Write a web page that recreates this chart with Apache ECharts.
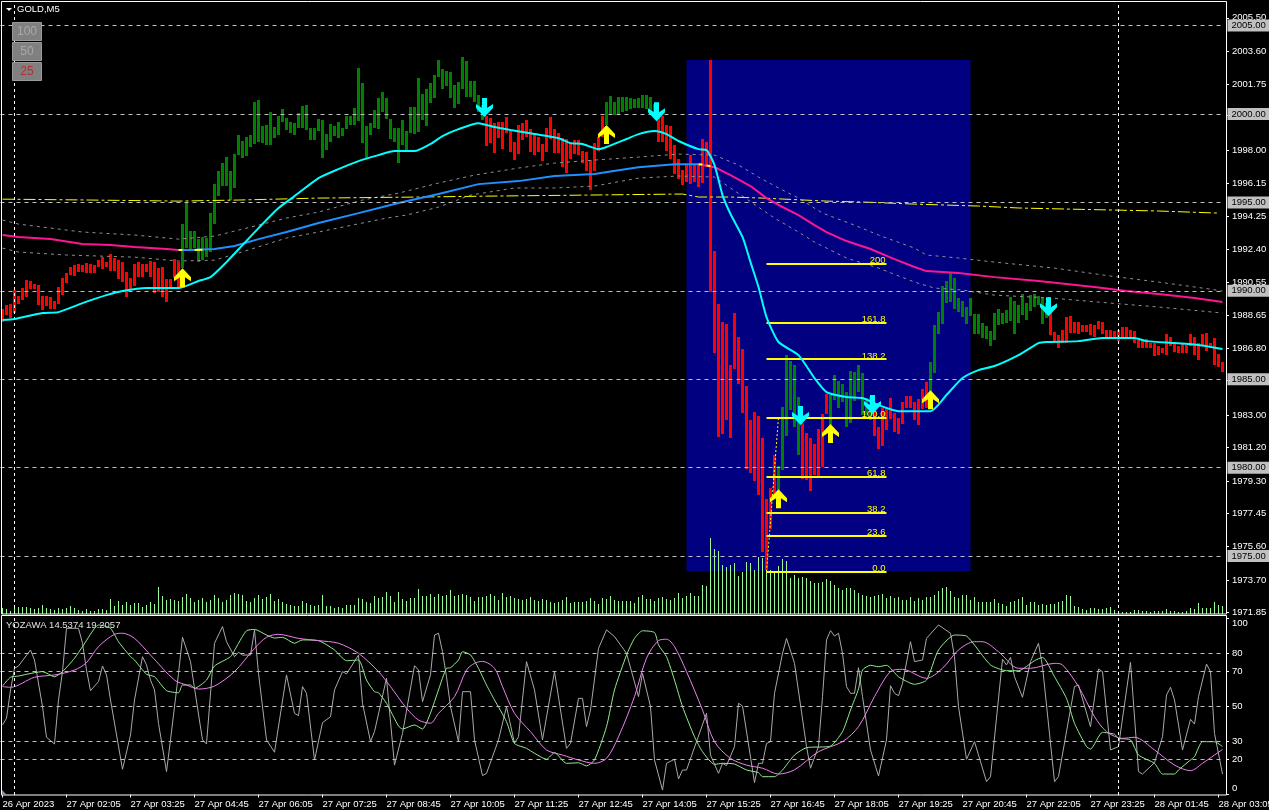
<!DOCTYPE html>
<html><head><meta charset="utf-8">
<style>html,body{margin:0;padding:0;background:#000}#c{width:1269px;height:810px}</style>
<script src="https://cdn.jsdelivr.net/npm/echarts@6/dist/echarts.min.js"></script>
</head><body><div id="c"></div>
<script>
const tickLabels=['26 Apr 2023','27 Apr 02:05','27 Apr 03:25','27 Apr 04:45','27 Apr 06:05','27 Apr 07:25','27 Apr 08:45','27 Apr 10:05','27 Apr 11:25','27 Apr 12:45','27 Apr 14:05','27 Apr 15:25','27 Apr 16:45','27 Apr 18:05','27 Apr 19:25','27 Apr 20:45','27 Apr 22:05','27 Apr 23:25','28 Apr 01:45','28 Apr 03:05'];
const priceTicks=[2005.5,2003.6,2001.75,2000,1998,1996.15,1994.25,1992.4,1990.55,1988.65,1986.8,1985,1983,1981.2,1979.3,1977.45,1975.6,1973.7,1971.85];
const priceLevels=[2005,2000,1995,1990,1985,1980,1975];
const barHigh=[
1989.02,1989.25,1989.31,1990.10,1989.76,1990.21,1990.66,1990.61,1990.44,1990.38,
1989.76,1989.76,1989.70,1989.48,1990.27,1990.78,1991.06,1991.40,1991.51,1991.57,
1991.51,1991.62,1991.57,1991.51,1991.79,1991.96,1991.68,1992.13,1991.91,1991.79,
1991.68,1991.12,1990.78,1991.57,1991.68,1991.57,1991.57,1991.74,1991.68,1991.34,
1991.40,1990.72,1990.72,1991.85,1991.68,1993.83,1995.07,1993.43,1993.43,1992.98,
1993.10,1993.04,1994.45,1996.09,1996.83,1997.28,1997.62,1996.83,1997.79,1998.86,
1998.52,1998.75,1998.86,2000.73,2000.84,1999.37,1999.43,2000.17,1999.32,1999.94,
2000.33,1999.83,1999.60,1999.54,2000.11,2000.50,2000.56,1999.26,1999.26,1999.77,
1999.71,1998.92,1999.49,1999.37,1999.60,1999.26,1999.94,1999.94,2000.39,2002.65,
2001.81,1999.37,1999.54,2000.28,2000.96,2001.30,2000.96,1999.77,1999.26,1999.26,
1999.71,1999.09,2000.45,2000.45,2002.09,2001.18,2001.47,2001.81,2002.26,2003.11,
2002.60,2002.48,2002.43,2001.69,2001.86,2003.28,2003.05,2001.92,2001.92,2001.13,
2000.56,1999.94,1999.83,1999.54,1999.60,1999.60,1999.88,1999.09,1998.47,1999.43,
1999.54,1999.71,1999.20,1998.98,1998.75,1998.36,1999.26,1999.88,1999.20,1998.98,
1998.69,1998.64,1998.47,1998.58,1998.58,1997.96,1997.90,1997.45,1998.41,1998.75,
1999.94,2000.73,2001.07,2000.73,2001.01,2001.01,2001.01,2000.96,2000.90,2000.96,
2001.13,2001.13,2001.01,2000.62,2000.00,1999.94,1999.43,1999.37,1998.30,1997.51,
1996.88,1997.17,1997.73,1997.17,1997.17,1998.64,1998.47,2003.11,1992.30,1989.31,
1988.29,1988.17,1985.86,1988.80,1987.44,1986.76,1984.67,1982.74,1983.20,1982.97,
1981.73,1978.28,1978.90,1980.77,1980.14,1983.48,1986.42,1986.08,1985.86,1984.05,
1982.58,1982.01,1981.73,1981.39,1982.24,1983.08,1984.22,1984.16,1985.29,1984.95,
1984.78,1984.33,1985.52,1985.46,1985.86,1985.40,1983.99,1984.05,1983.42,1982.35,
1983.42,1983.42,1983.99,1983.14,1982.86,1983.76,1984.10,1984.10,1983.76,1983.93,
1984.50,1984.89,1986.02,1988.12,1988.85,1990.32,1990.61,1991.06,1990.78,1989.65,
1989.48,1989.14,1989.65,1988.74,1988.74,1988.23,1988.06,1987.78,1988.80,1989.02,
1988.80,1988.97,1989.70,1989.48,1989.25,1989.87,1989.36,1989.81,1989.87,1989.76,
1989.65,1989.36,1988.80,1987.72,1987.55,1987.84,1988.57,1988.63,1988.29,1988.29,
1988.12,1988.12,1988.17,1988.12,1988.34,1988.29,1987.84,1987.84,1987.78,1987.84,
1988.00,1988.00,1987.84,1987.78,1987.27,1987.27,1987.33,1987.10,1987.10,1986.93,
1986.82,1987.61,1987.44,1987.10,1986.93,1987.10,1986.99,1987.61,1987.44,1987.10,
1987.61,1987.67,1987.10,1987.38,1986.48,1986.02];
const barLow=[
1988.29,1988.68,1988.51,1988.80,1989.31,1989.53,1989.70,1990.15,1990.15,1989.25,
1988.97,1989.19,1989.02,1989.02,1989.31,1989.81,1990.49,1990.95,1990.89,1991.12,
1991.12,1991.06,1991.06,1991.06,1991.40,1991.29,1991.40,1991.17,1991.17,1990.72,
1990.55,1989.70,1990.10,1990.32,1990.83,1990.83,1991.12,1990.83,1989.93,1989.98,
1989.70,1989.42,1990.15,1990.78,1990.21,1991.34,1992.47,1992.36,1992.47,1991.68,
1991.79,1991.96,1992.25,1993.83,1995.41,1995.98,1995.98,1995.19,1995.87,1997.73,
1997.56,1997.68,1998.19,1998.36,1998.47,1998.41,1998.30,1998.30,1998.69,1998.86,
1999.60,1999.15,1998.98,1998.86,1999.26,1999.26,1999.15,1998.58,1998.58,1999.09,
1997.56,1998.02,1998.47,1998.81,1998.69,1998.81,1999.20,1999.43,1999.43,1999.66,
1998.41,1997.56,1998.86,1999.26,1999.20,2000.17,1999.77,1998.64,1998.47,1997.28,
1998.30,1998.02,1998.98,1998.92,1999.03,1999.71,1999.37,2000.67,2000.96,2002.14,
2001.47,2001.64,2000.96,2000.39,2000.62,2001.47,2001.01,2001.01,2000.73,2000.17,
1999.71,1998.24,1998.41,1997.85,1998.69,1998.07,1998.98,1997.90,1997.45,1997.79,
1998.58,1998.75,1997.90,1997.73,1997.90,1997.39,1997.90,1998.64,1997.85,1997.85,
1997.05,1996.72,1997.51,1997.79,1997.73,1997.28,1996.83,1995.75,1996.83,1997.96,
1998.75,1999.43,2000.00,2000.00,2000.00,2000.17,2000.22,2000.33,2000.39,2000.39,
2000.39,2000.33,2000.00,1999.88,1998.47,1998.47,1997.96,1997.51,1996.66,1996.38,
1996.04,1996.21,1996.09,1996.21,1995.92,1996.15,1997.05,1989.98,1986.53,1981.78,
1981.95,1982.74,1981.73,1985.63,1984.78,1983.14,1979.97,1979.75,1979.29,1978.50,
1975.28,1974.26,1976.58,1978.50,1978.79,1979.92,1981.84,1983.31,1982.35,1980.77,
1979.41,1979.35,1978.73,1979.63,1979.58,1980.09,1983.08,1982.46,1983.88,1983.42,
1983.76,1982.35,1982.58,1983.82,1984.33,1983.03,1983.03,1982.74,1981.84,1981.10,
1981.27,1982.18,1982.80,1982.07,1981.95,1982.52,1983.42,1983.42,1982.74,1982.46,
1983.37,1983.42,1983.71,1985.40,1987.61,1988.17,1989.36,1989.42,1989.02,1988.85,
1988.57,1988.17,1988.63,1987.61,1987.61,1987.38,1987.33,1986.93,1987.27,1988.12,
1988.17,1988.23,1988.34,1987.61,1988.23,1988.68,1988.40,1988.91,1989.14,1989.25,
1988.17,1988.51,1987.55,1987.16,1986.82,1987.10,1987.10,1987.67,1987.67,1987.61,
1987.72,1987.72,1987.55,1987.44,1987.89,1987.61,1987.44,1987.44,1987.38,1987.21,
1987.44,1987.44,1987.44,1987.10,1986.82,1986.82,1986.82,1986.82,1986.36,1986.42,
1986.53,1986.42,1986.93,1986.59,1986.53,1986.53,1986.53,1986.93,1986.42,1986.14,
1986.93,1986.65,1986.82,1985.86,1985.74,1985.46];
const barTrend=[[0,44,0],[45,120,1],[121,150,0],[151,163,1],[164,193,0],[194,199,1],[200,206,0],[207,217,1],[218,231,0],[232,261,1],[262,305,0]];
const tickVolume=[
6,5,3,8,7,7,7,6,5,6,9,6,5,4,6,5,6,8,6,4,3,5,3,3,5,5,4,15,8,13,
9,12,9,11,11,7,9,12,10,27,18,14,15,14,13,17,20,16,12,14,16,12,14,19,16,12,14,19,21,20,
19,13,12,16,19,15,17,20,13,15,12,10,9,8,8,13,11,9,8,9,19,8,8,6,7,6,9,9,9,16,
15,12,11,18,16,17,22,18,12,22,15,13,16,16,25,18,18,20,17,20,18,19,24,18,19,20,19,17,13,17,
17,18,20,18,14,21,17,18,16,15,14,15,17,14,13,15,14,12,11,12,14,17,11,12,12,12,13,16,13,10,
16,15,18,14,13,13,13,13,11,17,19,15,15,13,16,17,15,14,16,21,16,18,21,18,18,29,28,76,65,63,
49,47,49,51,38,42,52,51,44,57,56,54,44,43,48,55,53,36,39,36,37,36,33,31,31,32,35,33,29,26,
24,26,26,24,21,19,18,17,18,19,20,16,18,16,17,14,14,17,13,16,14,17,17,19,23,26,27,23,17,16,
19,19,14,17,12,12,12,12,15,11,10,8,12,13,15,17,9,12,12,9,10,9,10,10,12,13,19,18,8,7,
5,4,6,6,5,5,6,7,4,3,2,2,2,4,4,3,3,2,3,3,3,5,3,3,2,2,3,6,5,11,6,6,6,12,9,8];
const cyanMA=[[0,1988.40],[3,1988.46],[10,1988.80],[14,1988.85],[20,1989.36],[26,1989.81],[30,1990.04],[36,1990.21],[41,1990.21],[44,1990.21],[49,1990.61],[52,1990.83],[56,1991.68],[60,1992.64],[64,1993.60],[69,1994.74],[73,1995.41],[79,1996.43],[84,1996.94],[89,1997.39],[94,1997.73],[98,1997.96],[103,1997.96],[107,1998.36],[110,1998.81],[114,1999.20],[119,1999.54],[123,1999.32],[127,1999.15],[133,1998.92],[139,1998.69],[142,1998.41],[145,1998.36],[149,1998.07],[151,1998.19],[156,1998.64],[159,1998.92],[163,1999.09],[166,1998.92],[169,1998.53],[174,1998.07],[176,1998.02],[178,1997.17],[180,1995.47],[182,1994.40],[185,1993.10],[187,1991.68],[189,1990.27],[191,1988.57],[194,1987.16],[199,1986.42],[203,1985.12],[206,1984.33],[211,1984.05],[215,1983.99],[219,1983.59],[224,1983.25],[232,1983.25],[236,1984.16],[240,1985.12],[244,1985.57],[248,1985.80],[254,1986.42],[259,1987.10],[261,1987.16],[269,1987.21],[275,1987.38],[283,1987.38],[286,1987.21],[293,1987.10],[299,1986.99],[305,1986.76]];
const maPinkLeft=[[0,1993.21],[4,1993.10],[12,1992.98],[20,1992.70],[27,1992.64],[33,1992.53],[41,1992.42],[44,1992.36]];
const maBlue=[[44,1992.36],[47,1992.36],[53,1992.42],[58,1992.59],[64,1992.98],[71,1993.38],[79,1993.89],[89,1994.45],[99,1995.02],[109,1995.53],[119,1996.09],[129,1996.26],[138,1996.55],[148,1996.66],[154,1996.88],[159,1997.05],[168,1997.22],[174,1997.22]];
const maPinkRight=[[174,1997.22],[178,1997.05],[182,1996.60],[187,1995.98],[191,1995.30],[194,1994.91],[199,1994.34],[203,1993.77],[206,1993.38],[211,1992.87],[217,1992.42],[223,1991.85],[228,1991.40],[231,1991.17],[239,1991.06],[248,1990.83],[259,1990.61],[273,1990.27],[281,1990.04],[289,1989.87],[298,1989.65],[305,1989.42]];
const envUpper=[[0,1994.06],[4,1993.83],[10,1993.66],[20,1993.38],[33,1993.21],[44,1992.98],[53,1993.15],[62,1993.66],[71,1994.17],[79,1994.51],[90,1995.19],[99,1995.58],[109,1996.15],[118,1996.60],[129,1997.00],[138,1997.28],[148,1997.45],[159,1997.62],[169,1997.79],[178,1997.73],[184,1997.17],[189,1996.49],[194,1995.87],[199,1995.30],[205,1994.45],[213,1993.77],[219,1993.21],[228,1992.47],[231,1992.08],[239,1991.91],[248,1991.68],[263,1991.34],[277,1990.89],[289,1990.55],[302,1990.15],[305,1990.04]];
const envLower=[[0,1992.47],[4,1992.25],[16,1992.08],[33,1991.96],[44,1991.74],[53,1991.79],[59,1992.19],[71,1993.04],[79,1993.38],[96,1994.17],[101,1994.34],[109,1994.79],[117,1995.47],[128,1995.87],[138,1995.87],[148,1995.98],[159,1996.43],[169,1996.55],[178,1996.49],[182,1995.87],[189,1994.79],[193,1994.17],[199,1993.38],[203,1992.81],[211,1991.91],[219,1991.34],[228,1990.55],[233,1990.21],[240,1990.10],[248,1989.81],[262,1989.65],[277,1989.36],[289,1989.14],[305,1988.80]];
const trendYellow=[[0,1995.24],[22,1995.19],[44,1995.13],[59,1995.19],[79,1995.30],[104,1995.36],[121,1995.41],[146,1995.47],[170,1995.53],[174,1995.36],[182,1995.36],[190,1995.30],[206,1995.13],[216,1995.07],[228,1994.96],[244,1994.85],[254,1994.74],[266,1994.68],[289,1994.57],[304,1994.45]];
const fibNames=['0.0','23.6','38.2','61.8','100.0','138.2','161.8','200'];
const fibPrices=[1974.17,1976.22,1977.50,1979.55,1982.88,1986.20,1988.26,1991.59];
const fibPath=[[191,1974.17],[192,1977.00],[193,1980.00],[194,1982.88]];
const upArrows=[[45,1990.80],[151,1998.89],[194,1978.30],[207,1981.98],[232,1983.90]];
const downArrows=[[121,2000.42],[164,2000.19],[200,1983.00],[218,1983.62],[262,1989.16]];
const fastLine=[[0,39.5],[1,43.3],[2,59.4],[3,71.7],[4,73.0],[7,82.1],[8,76.4],[10,49.9],[11,32.5],[13,28.7],[14,53.7],[15,69.8],[16,94.4],[19,94.4],[20,85.9],[21,70.7],[22,59.0],[24,64.1],[25,73.0],[26,67.9],[27,53.7],[30,14.3],[32,33.8],[33,53.7],[35,78.3],[36,73.6],[37,65.0],[38,59.4],[39,40.4],[41,13.0],[42,31.0],[44,68.8],[45,89.3],[47,75.5],[48,60.3],[50,31.0],[51,28.7],[53,85.9],[55,95.4],[56,86.8],[58,78.3],[59,80.8],[60,79.2],[62,79.2],[63,93.5],[64,68.8],[66,31.0],[68,24.0],[71,67.9],[73,46.1],[74,44.8],[75,61.3],[76,57.5],[78,19.6],[80,40.8],[82,44.2],[83,59.4],[85,69.8],[86,68.5],[89,79.2],[90,51.8],[92,30.0],[93,35.7],[96,66.0],[98,16.7],[100,34.7],[103,73.2],[104,70.7],[105,52.7],[107,68.0],[108,90.6],[109,91.6],[110,81.1],[111,66.9],[112,49.9],[114,30.0],[115,58.4],[117,58.4],[118,31.0],[120,10.7],[121,12.0],[124,31.0],[126,49.9],[128,29.1],[129,32.8],[131,75.5],[133,59.4],[135,31.0],[138,69.8],[141,26.2],[142,29.0],[144,54.6],[145,54.6],[146,38.5],[147,48.0],[149,83.0],[151,93.5],[153,89.7],[156,80.2],[159,55.6],[160,68.8],[162,49.9],[163,19.6],[165,2.5],[166,17.7],[168,20.0],[169,8.8],[170,13.9],[171,13.9],[176,46.1],[177,22.4],[179,12.0],[180,17.7],[181,16.4],[183,27.2],[184,51.8],[185,50.3],[188,6.7],[189,17.7],[190,17.7],[191,29.0],[192,30.0],[193,57.5],[195,80.2],[196,88.7],[198,74.5],[201,27.2],[202,14.9],[204,27.2],[205,55.6],[206,87.8],[207,93.1],[208,90.0],[209,91.6],[210,80.2],[211,61.3],[212,57.5],[213,57.5],[214,72.0],[215,55.6],[217,25.3],[219,10.5],[221,31.0],[222,61.8],[223,57.5],[224,56.1],[225,63.1],[227,86.8],[228,75.5],[230,76.4],[231,88.7],[234,96.3],[237,91.6],[238,78.3],[239,49.9],[241,20.0],[243,30.0],[246,7.3],[247,10.1],[250,76.8],[251,73.6],[252,77.9],[253,66.9],[255,55.2],[257,75.5],[259,85.9],[260,72.6],[263,7.3],[264,10.1],[268,61.3],[269,62.2],[272,38.5],[274,71.3],[275,69.8],[277,25.3],[279,27.2],[282,75.1],[284,13.0],[285,11.6],[288,18.1],[290,32.8],[291,56.5],[292,60.9],[293,53.7],[295,25.3],[297,42.7],[298,40.0],[299,55.6],[301,74.1],[302,69.8],[303,34.7],[305,11.6]];
const greenLine=[[0,61.6],[2,66.6],[4,67.3],[8,69.2],[10,69.8],[13,66.9],[15,69.8],[18,77.4],[20,84.0],[23,94.4],[24,96.3],[27,94.4],[29,86.8],[32,78.3],[33,76.4],[36,68.3],[38,66.9],[41,59.0],[44,57.8],[45,62.2],[47,62.2],[48,60.3],[51,65.0],[53,73.0],[57,78.3],[59,85.9],[61,93.0],[63,93.8],[66,90.6],[68,88.9],[70,89.3],[73,85.9],[75,87.8],[79,87.4],[83,82.1],[86,76.0],[89,76.4],[91,65.0],[93,58.4],[94,57.8],[96,51.8],[99,38.9],[100,37.2],[103,39.5],[105,37.2],[107,46.3],[109,59.4],[111,71.7],[112,72.0],[114,76.4],[115,81.1],[117,79.3],[119,71.7],[121,62.2],[123,53.7],[126,41.4],[128,29.0],[131,26.2],[133,23.4],[136,20.0],[138,23.8],[141,17.7],[144,18.0],[146,16.2],[148,19.6],[151,38.5],[153,59.4],[156,79.2],[158,88.7],[160,93.0],[163,92.0],[164,85.0],[166,78.3],[168,65.0],[170,49.9],[173,32.8],[175,24.3],[178,17.1],[180,17.7],[183,17.3],[186,13.9],[189,12.4],[190,10.1],[193,10.1],[195,13.9],[198,22.4],[201,26.6],[207,27.5],[210,35.7],[212,48.0],[214,60.0],[215,70.7],[217,73.4],[219,72.6],[221,73.4],[224,66.9],[228,62.6],[231,65.0],[234,82.1],[238,90.6],[241,90.0],[243,84.9],[247,73.6],[251,70.3],[254,70.3],[258,76.0],[260,77.9],[263,66.9],[266,54.6],[268,40.4],[271,27.2],[272,25.8],[275,35.3],[278,34.2],[279,31.9],[282,31.0],[284,22.4],[288,17.7],[290,11.6],[293,11.6],[294,13.9],[297,19.6],[298,21.5],[300,30.0],[303,30.0],[305,27.2]];
const violetLine=[[0,61.3],[2,60.9],[8,66.6],[13,67.9],[18,70.7],[21,74.9],[24,84.0],[28,91.0],[30,91.6],[33,88.7],[37,79.2],[43,65.0],[46,62.2],[49,59.9],[53,61.6],[58,69.8],[63,83.0],[66,89.3],[69,91.0],[74,88.7],[79,87.4],[84,85.9],[89,80.2],[94,69.8],[97,61.3],[101,49.0],[104,42.3],[107,40.5],[109,46.1],[113,55.6],[116,70.7],[118,74.5],[120,75.6],[123,71.7],[125,61.3],[128,46.1],[132,35.7],[136,25.3],[140,22.4],[144,19.6],[148,17.7],[151,20.5],[154,32.8],[158,55.6],[161,77.4],[164,87.4],[166,88.2],[168,84.0],[171,69.8],[175,48.0],[178,30.0],[182,20.5],[186,16.7],[190,14.9],[194,11.6],[198,14.0],[204,24.3],[210,30.0],[214,38.5],[218,55.6],[222,69.8],[225,71.1],[231,66.0],[235,71.7],[239,82.1],[243,86.8],[245,86.8],[249,81.1],[254,71.7],[257,71.7],[263,74.5],[265,73.6],[269,61.3],[273,44.2],[276,35.7],[280,31.9],[283,32.5],[288,25.3],[293,16.7],[297,13.5],[300,17.7],[305,25.6]];
const subLevels=[80,70,50,30,20];
const subTicks=[100,80,70,50,30,20,0];
const subLabels=[['100',97.3],['80',80],['70',70],['50',50],['30',30],['20',20],['0',3.7]];
const separators=[3,279];

const FONT='"Liberation Sans"';const FS=9.5;
const LEVEL_NUDGE=0.055;
const cats=Array.from({length:barHigh.length},(_,i)=>i%16===0?tickLabels[i/16]:'');
const trendAt=i=>barTrend.find(r=>i>=r[0]&&i<=r[1])[2];
const candles=barHigh.map((h,i)=>[i,h,barLow[i],trendAt(i)]);
const volumes=tickVolume.map((v,i)=>[i,v]);
const ARROW_UP='path://M8.5 0L17 9V13L11 9V19H6V9L0 13V9Z';
const ARROW_DN='path://M6 0H11V10L17 6V10L8.5 19L0 10V6L6 10Z';
const line=(data,color,width,type,z,xi,yi,smooth)=>({type:'line',data,xAxisIndex:xi||0,yAxisIndex:yi||0,showSymbol:false,silent:true,z:z||4,smooth:smooth||false,lineStyle:{color,width,type:type||'solid'},itemStyle:{color},animation:false});
const blank={show:false};
const option={
 backgroundColor:'#000',animation:false,
 grid:[{left:0.5,top:2,width:1224,height:612,outerBoundsMode:'none'},{left:0.5,top:616,width:1224,height:179,outerBoundsMode:'none'}],
 xAxis:[
  {type:'category',gridIndex:0,data:cats,boundaryGap:true,axisLine:blank,axisTick:blank,axisLabel:blank,splitLine:blank},
  {type:'category',gridIndex:1,data:cats,boundaryGap:true,axisLine:blank,
   axisTick:{show:true,alignWithLabel:true,interval:i=>i%16===0,length:3,lineStyle:{color:'#fff'}},
   axisLabel:{show:true,interval:i=>i%16===0,hideOverlap:false,align:'left',margin:4,color:'#fff',fontFamily:FONT,fontSize:FS},splitLine:blank}
 ],
 yAxis:[
  {type:'value',gridIndex:0,position:'right',offset:1.5,min:1971.776,max:2006.391,scale:true,axisLine:blank,splitLine:blank,
   axisTick:{show:true,length:3,customValues:priceTicks,lineStyle:{color:'#fff'}},
   axisLabel:{show:true,customValues:priceTicks.filter(v=>!priceLevels.includes(v)),margin:6,color:'#fff',fontFamily:FONT,fontSize:FS,formatter:v=>v.toFixed(2)}},
  {type:'value',gridIndex:0,min:0,max:612,show:false},
  {type:'value',gridIndex:1,position:'right',offset:1.5,min:-0.3,max:101.4,axisLine:blank,splitLine:blank,
   axisTick:{show:true,length:3,customValues:subTicks,lineStyle:{color:'#fff'}},
   axisLabel:{show:true,customValues:subLabels.map(r=>r[1]),margin:6,color:'#fff',fontFamily:FONT,fontSize:FS,formatter:v=>(subLabels.find(r=>r[1]===v)||[''])[0]}}
 ],
 series:[
  {type:'line',data:[],xAxisIndex:0,yAxisIndex:0,z:1,silent:true,
   markArea:{silent:true,itemStyle:{color:'#000080'},data:[[{xAxis:171,yAxis:2003.11},{xAxis:242,yAxis:1974.21}]]}},
  {type:'line',data:[],xAxisIndex:0,yAxisIndex:0,z:2,silent:true,
   markLine:{silent:true,symbol:'none',precision:3,animation:false,
    lineStyle:{color:'#c0c0c0',width:1,type:[4,4]},
    label:{show:true,position:'end',distance:[3,0],color:'#000',backgroundColor:'#c0c0c0',padding:[1,4,1,4],fontFamily:FONT,fontSize:FS,formatter:p=>Math.round(Number(p.value)).toFixed(2)},
    data:priceLevels.map(v=>({yAxis:v+LEVEL_NUDGE}))}},
  {type:'line',data:[],xAxisIndex:0,yAxisIndex:0,z:2,silent:true,
   markLine:{silent:true,symbol:'none',animation:false,lineStyle:{color:'#fff',width:1,type:[3,3]},label:blank,data:separators.map(v=>({xAxis:v}))}},
  {type:'custom',data:volumes,xAxisIndex:0,yAxisIndex:1,silent:true,z:3,encode:{x:0,y:1},clip:true,
   renderItem:(p,api)=>{const t=api.coord([api.value(0),api.value(1)]),b=api.coord([api.value(0),0]);
     const y=Math.round(t[1]);return {type:'rect',shape:{x:Math.floor(t[0]),y,width:1,height:Math.round(b[1])-y},style:{fill:'#98fb98'}};}},
  {type:'custom',data:candles,xAxisIndex:0,yAxisIndex:0,silent:true,z:3,encode:{x:0,y:[1,2]},clip:true,
   renderItem:(p,api)=>{const t=api.coord([api.value(0),api.value(1)]),b=api.coord([api.value(0),api.value(2)]);
     const y=Math.round(t[1]);return {type:'rect',shape:{x:Math.floor(t[0])-1,y,width:3,height:Math.max(1,Math.round(b[1])-y)},style:{fill:api.value(3)?'#008000':'#ff0000'}};}},
  line(envUpper,'#909090',1,[3,4],3),
  line(envLower,'#909090',1,[3,4],3),
  line(trendYellow,'#ffff00',1,[12,3,3,3],3),
  line(maPinkLeft,'#ff1493',2,'solid',4),
  line(maBlue,'#1e90ff',2,'solid',4),
  line(maPinkRight,'#ff1493',2,'solid',4),
  {type:'line',data:[],xAxisIndex:0,yAxisIndex:0,z:4,silent:true,
   markLine:{silent:true,symbol:'none',animation:false,label:blank,lineStyle:{color:'#ffff00',width:2,type:'solid'},
    data:[[{coord:[44,1992.36]},{coord:[45,1992.36]}],[{coord:[48,1992.36]},{coord:[50,1992.38]}],[{coord:[174,1997.22]},{coord:[175,1997.2]}],[{coord:[176,1997.15]},{coord:[177,1997.1]}]]}},
  line(cyanMA,'#00ffff',2,'solid',5,0,0,0.2),
  {type:'line',data:[],xAxisIndex:0,yAxisIndex:0,z:4,silent:true,
   markLine:{silent:true,symbol:'none',animation:false,lineStyle:{color:'#ffff00',width:2,type:'solid'},
    label:{show:true,position:'insideEndTop',distance:[1,0],offset:[0,2],color:'#ffff00',fontFamily:FONT,fontSize:FS,formatter:p=>p.name},
    data:fibPrices.map((p,k)=>[{name:fibNames[k],xAxis:191,yAxis:p},{xAxis:221,yAxis:p}])}},
  {type:'line',data:fibPath,xAxisIndex:0,yAxisIndex:0,z:4,silent:true,showSymbol:true,symbol:'rect',symbolSize:3,itemStyle:{color:'#ffff00'},lineStyle:{color:'#ffff00',width:1,type:[2,2]}},
  {type:'scatter',data:upArrows,xAxisIndex:0,yAxisIndex:0,symbol:ARROW_UP,symbolSize:[17,19],silent:true,z:6,itemStyle:{color:'#ffff00',opacity:1}},
  {type:'scatter',data:downArrows,xAxisIndex:0,yAxisIndex:0,symbol:ARROW_DN,symbolSize:[17,19],symbolOffset:[-2,0],silent:true,z:6,itemStyle:{color:'#00ffff',opacity:1}},
  {type:'line',data:[],xAxisIndex:1,yAxisIndex:2,z:1,silent:true,
   markLine:{silent:true,symbol:'none',animation:false,label:blank,lineStyle:{color:'#c0c0c0',width:1,type:[4,4]},data:subLevels.map(v=>({yAxis:v}))}},
  {type:'line',data:[],xAxisIndex:1,yAxisIndex:2,z:1,silent:true,
   markLine:{silent:true,symbol:'none',animation:false,label:blank,lineStyle:{color:'#fff',width:1,type:[3,3]},data:separators.map(v=>({xAxis:v}))}},
  line(fastLine,'#a9a9a9',1,'solid',3,1,2),
  line(greenLine,'#90ee90',1,'solid',4,1,2,0.2),
  line(violetLine,'#ee82ee',1,'solid',4,1,2,0.3)
 ],
 graphic:[
  {type:'rect',z:20,silent:true,shape:{x:1.5,y:1.5,width:1225,height:612.5},style:{fill:'none',stroke:'#fff',lineWidth:1}},
  {type:'rect',z:20,silent:true,shape:{x:1.5,y:615.5,width:1225,height:179.5},style:{fill:'none',stroke:'#fff',lineWidth:1}},
  {type:'polygon',z:20,silent:true,shape:{points:[[6,8],[12,8],[9,11]]},style:{fill:'#fff'}},
  {type:'text',z:20,silent:true,x:17,y:4,style:{text:'GOLD,M5',fill:'#fff',font:'9.5px "Liberation Sans"'}},
  {type:'text',z:20,silent:true,x:6,y:620,style:{text:'YOZAWA 14.5374 19.2057',fill:'#e0e0e0',font:'9.5px "Liberation Sans"'}},
  {type:'polygon',z:20,silent:true,shape:{points:[[2,790],[7,795],[2,795]]},style:{fill:'#8890a0'}},
  ...[[22,'100','#a8a8a8'],[42,'50','#a8a8a8'],[62,'25','#b03030']].flatMap(([y,t,c])=>[
   {type:'rect',z:21,silent:true,shape:{x:12.5,y:y+.5,width:29,height:18},style:{fill:'#808080',stroke:'#9a9a9a',lineWidth:1}},
   {type:'text',z:22,silent:true,x:27,y:y+9.5,style:{text:t,fill:c,align:'center',verticalAlign:'middle',font:'12px "Liberation Sans"'}}
  ])
 ]
};
const chart=echarts.init(document.getElementById('c'),null,{renderer:'canvas',width:1269,height:810});
chart.setOption(option);
</script></body></html>
